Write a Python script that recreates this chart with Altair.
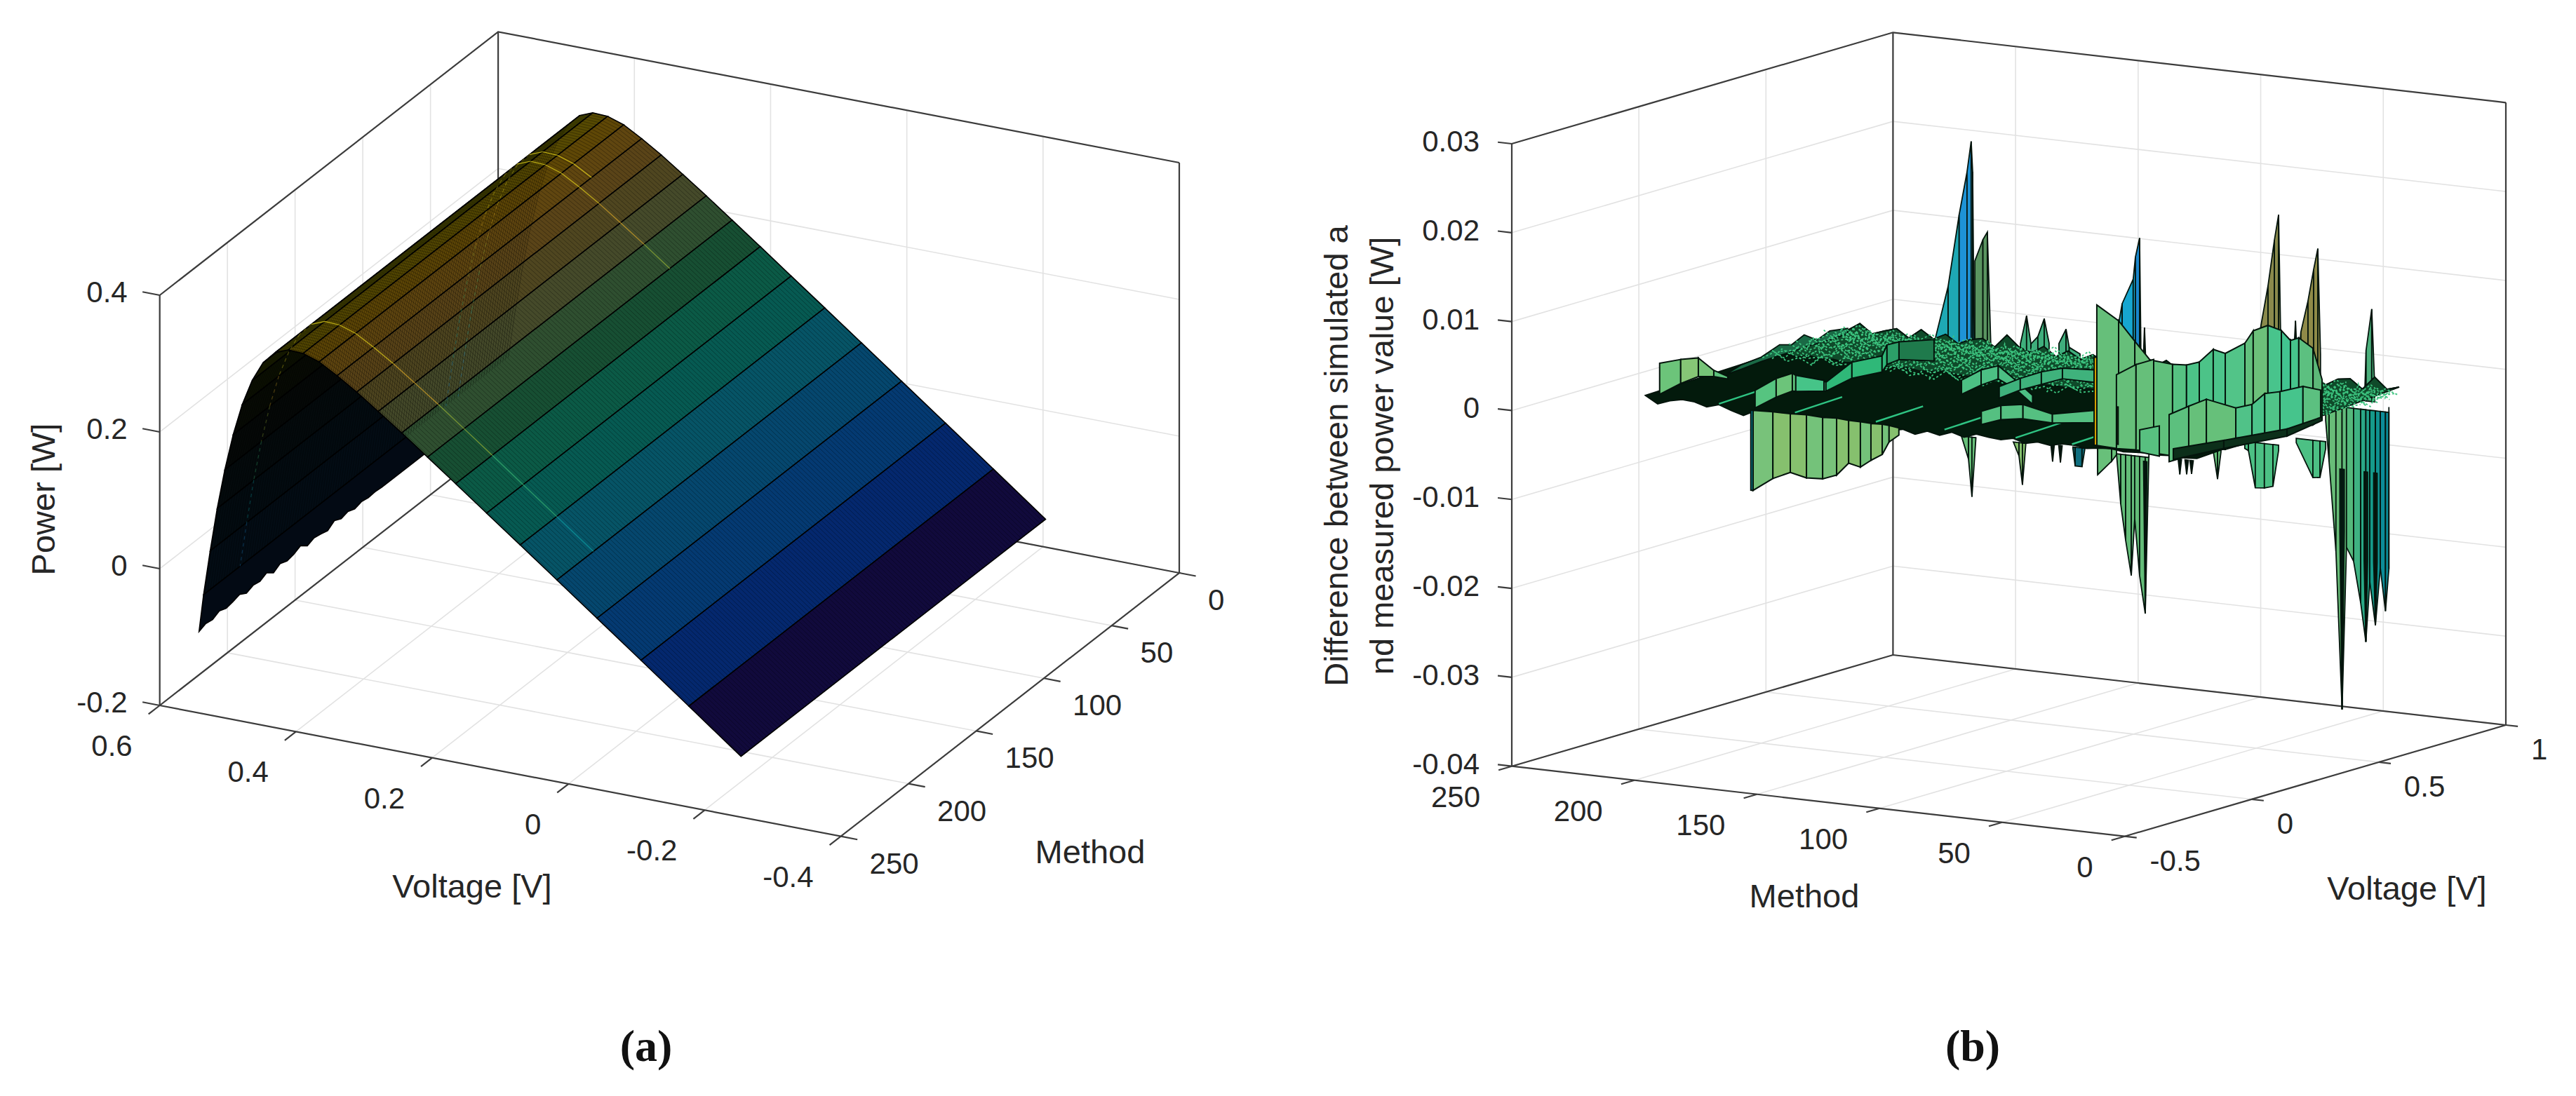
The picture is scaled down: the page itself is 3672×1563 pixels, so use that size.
import altair as alt
import pandas as pd

# ---------- panel (a): measured I-V points and resulting power per voltage row ----------
voltage_rows = [-0.2057, -0.1291, -0.0588, 0.0057, 0.0646, 0.1185, 0.1678, 0.2132, 0.2545, 0.2924, 0.3269, 0.3585, 0.3873,
                0.4137, 0.4373, 0.4590, 0.4784, 0.4960, 0.5119, 0.5265, 0.5398, 0.5521, 0.5633, 0.5736, 0.5833, 0.5900]
power_rows = [-0.1572, -0.0984, -0.0447, 0.0043, 0.0491, 0.0899, 0.1270, 0.1614, 0.1923, 0.2205, 0.2453, 0.2676, 0.2860,
              0.3012, 0.3090, 0.3100, 0.3023, 0.2842, 0.2554, 0.2174, 0.1708, 0.1170, 0.0583, -0.0057, -0.0717, -0.1239]
band_colors = ["#110a3c", "#04286e", "#043a72", "#05476e", "#065466", "#065a52", "#0b5a46", "#174f33", "#2f4f30", "#454a2a",
               "#4f4620", "#5a4418", "#604610", "#5f4706", "#574a02", "#444200", "#2c3000", "#181c00", "#0b0f02", "#070a04",
               "#050807", "#040a0c", "#030b10", "#030c14", "#030a14"]
last_row_methods = [226, 221, 216, 211, 206, 201, 196, 191, 186, 181, 176, 171, 166, 161, 156, 151, 146, 141, 136, 131, 126,
                    121, 116, 111, 106, 101, 96, 91, 86, 81, 76, 71]
last_row_power = [-0.127, -0.123, -0.125, -0.120, -0.124, -0.122, -0.119, -0.125, -0.121, -0.123, -0.118, -0.126, -0.120,
                  -0.124, -0.122, -0.117, -0.125, -0.121, -0.123, -0.126, -0.119, -0.124, -0.121, -0.125, -0.122, -0.124,
                  -0.123, -0.124, -0.124, -0.124, -0.124, -0.124]
highlight_methods = [199, 47, 38]
highlight_first_row = [4, 8, 12]
parula = ["#3e26a8", "#2f5af5", "#1e8fdc", "#10b3b8", "#3fc57e", "#a6c23a", "#eeb62c", "#f9e71f"]

a_v_ticks = [0.6, 0.4, 0.2, 0, -0.2, -0.4]
a_m_ticks = [0, 50, 100, 150, 200, 250]
a_z_ticks = [0.4, 0.2, 0, -0.2]
b_v_ticks = [-0.5, 0, 0.5, 1]
b_m_ticks = [0, 50, 100, 150, 200, 250]
b_z_ticks = [0.03, 0.02, 0.01, 0, -0.01, -0.02, -0.03, -0.04]

# ---------- panel (b): estimated curtains of the error surface: [v, methods, top mW, bottom mW, fill] ----------
GRN, KHK, TEA, DRK = "#68c07a", "#86c06e", "#46c48c", "#06231a"
back_spikes = [
    [0.5398, [185, 179.8, 175.3], [1.5, 7.5, 15.7], [0, 0, 0], "#1ea8b4"],
    [0.5398, [175.3, 172.1, 170.4, 169.8, 169.2], [15.7, 20.6, 24.1, 20.7, 2.2], [0, 0, 0, 0, 0], "#1e93d6"],
    [0.5398, [168.9, 165.6, 163.8, 162.4], [10.7, 13.2, 14.1, 1.6], [0, 0, 0, 0], "#5a9460"],
    [0.5398, [150.3, 147.8, 146, 143.2, 140.6, 138.6], [2, 5.2, 2.1, 3, 5.1, 2.4], [0, 0, 0, 0, 0, 0], "#3fae7c"],
    [0.5398, [134.6, 131.7, 130.4, 126], [2.5, 4.2, 2.2, 1.6], [0, 0, 0, 0], "#3fae7c"],
    [0.5398, [111.7, 108.8, 104.3, 103.4], [3.2, 7.8, 10.7, 13.2], [0, 0, 0, 0], "#16a6d0"],
    [0.5398, [103.4, 101.7, 101.2], [13.2, 15.4, 3.9], [0, 0, 0], "#1a86cc"],
    [0.5398, [100.3, 99.7, 99.1], [1, 5.4, 1], [0, 0, 0], DRK],
    [0.5398, [54.4, 52.2, 49.3, 46.7, 45, 44.2], [2.7, 7.1, 11.7, 16.9, 19.8, 7], [0, 0, 0, 0, 0, 0], "#8a8a4c"],
    [0.5398, [41, 40.2, 39.4], [3, 6, 3], [0, 0, 0], DRK],
    [0.5398, [39, 38.1, 37.3], [3, 8.1, 3], [0, 0, 0], DRK],
    [0.5398, [37.3, 35.9, 33, 30.7, 29, 27.9], [2, 6.9, 10.5, 14.1, 16.5, 4.7], [0, 0, 0, 0, 0, 0], "#8f8a48"],
    [0.5398, [9.8, 9.3, 7, 5.8], [1.3, 5.7, 10.4, 1.8], [0, 0, 0, 0], "#4cb07c"],
]
hanging_spikes = [
    [-0.2057, [97.1, 94.2, 92.8, 91.2], [-0.5, -0.5, -0.5, -0.5], [-0.5, -3, -7.2, -0.6], GRN],
    [-0.2057, [75.9, 73.6, 72.2, 70.8], [-0.5, -0.5, -0.5, -0.5], [-0.5, -2, -5.2, -0.5], KHK],
    [-0.2057, [60.6, 59.9, 59.2], [-0.3, -0.3, -0.3], [-0.3, -2.2, -0.3], DRK],
    [-0.2057, [57.4, 56.7, 56], [-0.3, -0.3, -0.3], [-0.3, -2.2, -0.3], DRK],
    [-0.2057, [51.6, 50.7, 47.9, 46.7], [-0.3, -0.3, -0.3, -0.3], [-0.5, -2.4, -2.4, -0.3], "#0f6f80"],
    [-0.2057, [41.6, 41.5, 35.8, 33.8], [0, 0, 0, 0], [0, -3.1, -1.4, -0.6], GRN],
    [-0.2057, [33.8, 32.1, 30.1, 27.8, 26.4, 24.4, 22.1, 20.6], [-0.5] * 8, [-0.6, -6.1, -10.1, -14, -7.6, -13.9, -18.1, -0.1], "#63bc78"],
    [-0.2057, [22.8, 22.1, 21.4], [-1, -1, -1], [-1, -18.1, -1], DRK],
    [-0.2057, [8.7, 8, 7.3], [-0.3, -0.3, -0.3], [-0.3, -2, -0.3], DRK],
    [-0.2057, [5.9, 5.2, 4.5], [-0.3, -0.3, -0.3], [-0.3, -1.9, -0.3], DRK],
    [-0.2057, [3.9, 3.2, 2.5], [-0.3, -0.3, -0.3], [-0.3, -1.8, -0.3], DRK],
    [0.3585, [52.8, 51.1, 49.7], [-4, -4, -4], [-5.6, -8.6, -5.5], GRN],
    [0.3585, [40, 38.5, 35.7, 32, 28.5, 26.2], [-4, -4, -4, -4, -4, -4], [-4.8, -5, -9.1, -9, -8.7, -4.6], "#4cc084"],
    [0.3585, [19, 12.2, 9.3, 7], [-3, -3, -3, -3], [-3.5, -7.2, -7.1, -3.8], "#4cc084"],
    [0.5398, [25.8, 24.4, 21.6, 19.1], [-1, -1, -1, -1], [-2.7, -7.3, -17.3, -35], "#68bd78"],
    [0.5398, [19.1, 17.3, 14.4, 11.5, 9.4, 7.8, 5.5, 3.5, 1.4, 0, 0], [-1] * 11,
     [-35, -16.7, -18.2, -22.8, -27.1, -20.3, -25.1, -18.6, -23.4, -18.6, -0.4],
     ["#62bc7a", "#55b97c", "#3fb282", "#2aa886", "#20a088", "#159a8a", "#0f9190", "#0c8c98", "#0c8c98", "#0a7f92"]],
    [0.5398, [20, 19.1, 18.2], [-8, -8, -8], [-15, -35, -15], DRK],
    [0.5398, [10.1, 9.4, 8.7], [-8, -8, -8], [-18, -27.1, -18], DRK],
    [0.5398, [6.2, 5.5, 4.8], [-8, -8, -8], [-18, -25.1, -18], DRK],
]
plate_front = [0, -0.8, -0.3, 0, -0.1, -0.5, -0.1, -0.6, -1, -0.3, -0.2, -0.2, -0.2, -0.2, -0.2, -0.2, -0.2, -0.2, -0.2, -0.2, -0.8,
               -0.5, -0.9, -0.4, -0.7, -0.2, -0.6, -0.1, -0.3, -0.4, -0.1, -0.5, -0.2, -0.4, -0.1, -0.1, -0.3, -0.1, 0, -0.2,
               -0.1, 0, -0.1, 0, -0.1, 0]
plate_mid = [0.6, 0.7, 0.5, 0.8, 0.6, 0.7, 0.5, 0.6, 0.8, 0.5, 0.6, 0.7, 0.5, 0.6, 0.8, 0.6, 0.5, 0.7, 0.6, 0.5, 0.6, 0.7, 0.5, 0.6,
             0.5, 0.6, 0.7, 0.5, 0.6, 0.5, 0.6, 0.7, 0.5, 0.6, 0.5, 0.7, 0.6, 0.5, 0.6, 0.7, 0.5, 0.6, 0.7, 0.5, 0.6, 0.7]
plate_back = [0.7, 1.6, 0.6, 1.1, 1.5, 0.6, 1.7, 0.8, 1.5, 0.6, 1.2, 1.5, 0.7, 2.2, 1.0, 0.5, 1.4, 0.4, 1.2, 0.4, 1.1, 0.4, 1.3,
              0.5, 1.1, 0.5, 1.4, 0.5, 1.1, 1.3, 0.5, 1.4, 0.6, 1.2, 1.5, 0.6, 1.4, 0.7, 1.6, 0.7, 1.5, 1.7, 0.7, 2.2, 1.0, 1.4]
ripple = [0.4, 1.2, 0.3, 0.9, 0.2, 1.5, 0.5, 0.8, 0.1, 1.1, 0.6, 1.4, 0.3, 0.7, 0.2, 1.3, 0.4, 1.0, 0.1, 0.9, 0.5, 1.6, 0.3, 0.8,
          0.2, 1.2, 0.6, 0.9, 0.3, 1.1, 0.2, 0.7, 0.5, 1.4, 0.3, 0.9]
ripple_rows = [0.2545, 0.2924, 0.3269, 0.3585, 0.3873, 0.4137, 0.4373, 0.4590, 0.4784, 0.4960, 0.5119, 0.5265, 0.5398, 0.5521, 0.5633, 0.5736, 0.5833]
mesh_methods = [222, 214, 206, 198, 190, 182, 174, 166, 158, 150, 142, 134, 126, 118, 110, 102, 28, 22, 16, 10, 4]
strip_methods = [196, 165, 132, 104, 75, 52]

left_edge_v = [0.118, 0.173, 0.25, 0.3225, 0.37, 0.419, 0.469, 0.52, 0.5900]
left_edge_top = [-0.2, 0.3, 0.5, 1.3, 0.9, 1.6, 0.6, 1.2, 0.9]
left_edge_bot = [-0.3, -0.2, 0.0, 0.1, 0.1, 0.2, 0.2, 0.2, 0.3]

ridges = [
    [-0.2057, [220.2, 211.6, 204.4, 198.1, 192.4], [3.8, 4.5, 4.9, 3.7, 3.2], [0.3, 1.8, 2.8, 3, 2.9], ["#6cc47a", "#86c676", "#76c478", "#5cc27c"]],
    [-0.1291, [189.2, 180.6, 174, 172.6, 161.1, 160.3, 149.7, 137.4, 135.4, 130.5, 116.2], [1.1, 2.7, 3.5, 3.3, 3.1, 2.9, 5.5, 6.6, 7.9, 8.4, 9.1],
     [-0.9, 0.6, 1.5, 1.5, 1.9, 1.9, 3.7, 4.8, 5.7, 6.4, 6.7],
     ["#56c480", "#6cc47a", "#60c27c", "#46c488", "#46c488", "#2fb878", "#2fb878", "#2fb878", "#2c9f68", "#1f7a4c"]],
    [-0.1291, [105, 97, 90, 83, 76], [4.9, 6.3, 7, 5.6, 4.1], [3.3, 4.6, 5.5, 4.6, 3.1], "#4cc084"],
    [0.0646, [117, 109, 100, 88, 70], [-0.6, 0.3, 0.7, 0.0, 1.0], [-2.1, -1.3, -0.9, -1.0, -0.4], "#55c081"],
    [0.0646, [109.7, 101.1, 92.5, 83.9, 71], [2.4, 3.6, 4.6, 5.3, 5.5], [1.1, 2.3, 3.2, 4.1, 4.1], "#3fb27c"],
]
wall_a = [-0.2057, [182.1, 174, 166.9, 160.3, 153.7, 148, 143.1, 138.3, 134, 129.4, 126.6, 122.6],
          [-0.3, -0.2, -0.2, -0.1, -0.2, -0.1, -0.2, -0.2, -0.25, -0.2, -0.25, -0.4],
          [-9.3, -7.7, -6.8, -7.2, -7.1, -6.5, -5, -5.3, -4.4, -3.6, -2.1, -1.2],
          ["#78c27a", KHK, KHK, "#74c27a", "#78c27a", KHK, KHK, "#74c27a", KHK, "#74c27a", KHK]]
wall_a_edge = [-0.2057, [183, 182.1], [-0.3, -0.3], [-9.3, -9.3], "#0b8fa8"]
wall_1 = [0.2924, [93.5, 84.6, 78, 71.8, 62.6, 56.9, 51.7, 46, 41.1, 33.1, 29.7, 23.7, 18.2, 14.5, 11.1, 5.3, 1.6],
          [10.2, 8.7, 6.6, 4.7, 4.5, 4.6, 5.1, 6.7, 6.4, 7.8, 9.3, 10.1, 9.7, 8.7, 9.1, 8.1, 4.7],
          [-5.6, -5.7, -5.6, -5.7, -5.8, -5.6, -5.3, -4.5, -4.4, -3.5, -3, -2.5, -2, -1.5, -1, -0.5, 0.3],
          ["#66bf7a", "#66bf7a", "#68c07a", "#60c07c", "#56c282", "#4cc388", "#4cc388", "#4cc48a", "#52c488", "#62c07e", "#6cc07a",
           "#48c48c", "#42c490", "#46c48c", "#5cc080", "#5cb878"]]
wall_1_edge = [0.2924, [94.6, 93.5], [4.3, 4.3], [-5.6, -5.6], "#e6ad00"]
wall_2 = [0.2924, [85.5, 77.5, 70.3], [2.6, 4, 4.8], [-5.7, -5.6, -5.6], "#66bf7a"]
wall_2_edge = [0.2924, [85.4, 84.8], [-1, -1], [-5.2, -5.2], "#a07820"]
wall_2b = [0.2924, [76, 68], [-3.3, -2.6], [-5.8, -6], "#58c080"]
wall_3 = [0.2924, [64, 56, 48.8, 36.8, 30.2, 25, 18.8, 9.4, 2.2], [-1.2, 0, 1, 0.4, 1, 2.4, 2.8, 3.7, 3.5],
          [-6.5, -5.6, -4.6, -3, -2.6, -2.2, -1.7, -0.6, 0.1],
          ["#5cc07e", "#66c07a", "#66c07a", "#50c288", "#4cc48a", "#50c488", "#46c48c", "#5cc080"]]
shelf = [0.2924, [62.3, 41.7, 15.9, 1.6], [-5, -3.4, -1.3, 0.5], [-6.2, -4.3, -2.1, 0.1], "#0c2f1a"]

# ---------- layout ----------
A = dict(F=(1198.6, 1192.7), V=(-970.9, -186.7), M=(482.4, -375.7), H=585.0, v0=-0.4, v1=0.6, m0=250, m1=0, z0=-0.2, z1=0.4)
B = dict(F=(3028.6, 1192.7), V=(543.4, -158.7), M=(-873.6, -100.0), H=887.7, v0=-0.5, v1=1.0, m0=0, m1=250, z0=-0.04, z1=0.03)


def proj(p, v, m, z):
    a = (v - p["v0"]) / (p["v1"] - p["v0"])
    c = (m - p["m0"]) / (p["m1"] - p["m0"])
    h = (z - p["z0"]) / (p["z1"] - p["z0"]) * p["H"]
    return [round(p["F"][0] + a * p["V"][0] + c * p["M"][0], 2), round(p["F"][1] + a * p["V"][1] + c * p["M"][1] - h, 2)]


def line(pts, **props):
    return {"type": "Feature", "geometry": {"type": "LineString", "coordinates": pts}, "properties": props}


def poly(pts, **props):
    return {"type": "Feature", "geometry": {"type": "Polygon", "coordinates": [pts + [pts[0]]]}, "properties": props}


def frame(p, v_ticks, m_ticks, z_ticks):
    grid, box = [], []
    P = lambda v, m, z: proj(p, v, m, z)
    v0, v1, m0, m1, z0, z1 = p["v0"], p["v1"], p["m0"], p["m1"], p["z0"], p["z1"]
    for v in v_ticks:
        grid.append(line([P(v, m0, z0), P(v, m1, z0)]))
        grid.append(line([P(v, m1, z0), P(v, m1, z1)]))
    for m in m_ticks:
        grid.append(line([P(v0, m, z0), P(v1, m, z0)]))
        grid.append(line([P(v1, m, z0), P(v1, m, z1)]))
    for z in z_ticks:
        grid.append(line([P(v1, m0, z), P(v1, m1, z), P(v0, m1, z)]))
    box.append(line([P(v1, m0, z0), P(v0, m0, z0), P(v0, m1, z0), P(v1, m1, z0), P(v1, m0, z0)]))
    for v, m in [(v1, m0), (v1, m1), (v0, m1)]:
        box.append(line([P(v, m, z0), P(v, m, z1)]))
    box.append(line([P(v1, m0, z1), P(v1, m1, z1), P(v0, m1, z1)]))
    return grid, box


def curtain(spec):
    v, ms, top, bot, fill = spec
    P = lambda m, z: proj(B, v, m, z / 1000)
    out = []
    for i in range(len(ms) - 1):
        f = fill if isinstance(fill, str) else fill[min(i, len(fill) - 1)]
        out.append(poly([P(ms[i], top[i]), P(ms[i + 1], top[i + 1]), P(ms[i + 1], bot[i + 1]), P(ms[i], bot[i])], fill=f))
    return out


# ----- panel a features -----
a_grid, a_box = frame(A, a_v_ticks, a_m_ticks, a_z_ticks)
for v in a_v_ticks:
    a_box.append(line([proj(A, v, 250, -0.2), proj(A, v, 258.3, -0.2)]))
for m in a_m_ticks:
    a_box.append(line([proj(A, -0.4, m, -0.2), proj(A, -0.4243, m, -0.2)]))
for z in a_z_ticks:
    a_box.append(line([proj(A, 0.6, 250, z), proj(A, 0.6253, 250, z)]))

a_bands = []
for i in range(len(band_colors) - 1, -1, -1):
    lo = [proj(A, voltage_rows[i], m, power_rows[i]) for m in (1, 226)]
    if i == len(band_colors) - 1:
        hi = [proj(A, voltage_rows[i + 1], m, z) for m, z in zip(last_row_methods, last_row_power)]
        hi.append(proj(A, voltage_rows[i + 1], 1, power_rows[i + 1]))
    else:
        hi = [proj(A, voltage_rows[i + 1], m, power_rows[i + 1]) for m in (226, 1)]
    a_bands.append(poly(lo + hi, fill=band_colors[i]))

a_hatch = [line([proj(A, v, m, z) for v, z in zip(voltage_rows[:-1], power_rows[:-1])]) for m in range(1, 227, 2)]
a_high, a_high_dim = [], []
for m, first in zip(highlight_methods, highlight_first_row):
    for i in range(first, len(voltage_rows) - 2):
        t = (power_rows[i] + 0.16) / 0.47
        seg = line([proj(A, voltage_rows[i], m, power_rows[i]), proj(A, voltage_rows[i + 1], m, power_rows[i + 1])],
                   stroke=parula[min(int(t * 8), 7)])
        (a_high if i < 16 else a_high_dim).append(seg)

# ----- panel b features -----
b_grid, b_box = frame(B, b_v_ticks, b_m_ticks, b_z_ticks)
for v in b_v_ticks:
    b_box.append(line([proj(B, v, 0, -0.04), proj(B, v, -4.9, -0.04)]))
for m in b_m_ticks:
    b_box.append(line([proj(B, -0.5, m, -0.04), proj(B, -0.552, m, -0.04)]))
for z in b_z_ticks:
    b_box.append(line([proj(B, -0.5, 250, z), proj(B, -0.5, 255.7, z)]))

lower = []
for s in back_spikes + hanging_spikes:
    lower += curtain(s)
edge_pts = lambda v, zs: [proj(B, v, 226 - 5 * i, z / 1000) for i, z in enumerate(zs)]
plate = edge_pts(-0.2057, plate_front) + edge_pts(0.59, plate_back)[::-1]
lower.append(poly(plate, fill="#031a0c"))
lower.append(poly(edge_pts(0.2924, plate_mid) + edge_pts(0.59, plate_back)[::-1], fill="#0f4a2a"))
lower.append(poly([proj(B, v, 226, z / 1000) for v, z in zip(left_edge_v, left_edge_top)]
                  + [proj(B, v, 226, z / 1000) for v, z in zip(left_edge_v, left_edge_bot)][::-1], fill="#1a6a46"))

speckle = []
for k, v in enumerate(ripple_rows):
    zs = ripple[k * 3 % 11:] + ripple[:k * 3 % 11]
    speckle.append(line([proj(B, v, 226 - 5 * i, z / 1000) for i, z in enumerate(zs)]))
    speckle.append(line([proj(B, v, 31 - 5 * i, z / 1000) for i, z in enumerate(zs[:7])]))
for j, m in enumerate(mesh_methods):
    speckle.append(line([proj(B, v, m, ripple[(j + i) % len(ripple)] / 1000) for i, v in enumerate(ripple_rows)]))
strips = [line([proj(B, -0.2057, m, 0.0), proj(B, -0.02, m, 0.0002)]) for m in strip_methods]

upper = []
for s in ridges + [wall_a, wall_a_edge, wall_1, wall_1_edge, wall_2, wall_2_edge, wall_2b, wall_3, shelf]:
    upper += curtain(s)

# ----- texts -----
fmt = lambda t: f"{t:g}"
rows = []
for t in a_z_ticks:
    x, y = proj(A, 0.6, 250, t); rows.append((x - 46, y - 3, fmt(t), "right"))
for t in a_v_ticks:
    x, y = proj(A, t, 250, -0.2); rows.append((x - 39, y + 59, fmt(t), "right"))
for t in a_m_ticks:
    x, y = proj(A, -0.4, t, -0.2); rows.append((x + 41, y + 40, fmt(t), "left"))
for t in b_z_ticks:
    x, y = proj(B, -0.5, 250, t); rows.append((x - 46, y - 2, fmt(t), "right"))
for t in b_m_ticks:
    x, y = proj(B, -0.5, t, -0.04); rows.append((x - 45, y + 45, fmt(t), "right"))
for t in b_v_ticks:
    x, y = proj(B, t, 0, -0.04); rows.append((x + 36, y + 36, fmt(t), "left"))
ticks_df = pd.DataFrame(rows, columns=["x", "y", "t", "al"])
titles_df = pd.DataFrame([(673, 1266, "Voltage [V]"), (1554, 1217, "Method"), (2572, 1280, "Method"), (3431, 1269, "Voltage [V]")],
                         columns=["x", "y", "t"])
vtitles_df = pd.DataFrame([(64, 712, "Power [W]"), (1907, 650, "Difference between simulated a"),
                           (1972, 650, "nd measured power value [W]")], columns=["x", "y", "t"])
caps_df = pd.DataFrame([(921, 1494, "(a)"), (2812, 1494, "(b)")], columns=["x", "y", "t"])

# ---------- chart ----------
W, H = 3656, 1547
X = alt.X("x:Q", axis=None, scale=alt.Scale(domain=[8, 8 + W], nice=False, zero=False))
Y = alt.Y("y:Q", axis=None, scale=alt.Scale(domain=[8 + H, 8], nice=False, zero=False))
FF = alt.Fill("properties.fill:N", scale=None)
SF = alt.Stroke("properties.stroke:N", scale=None)
PR = dict(type="identity", scale=1, translate=[-8, -8])


def lines(features, **mark):
    return alt.Chart(alt.Data(values=features)).mark_geoshape(filled=False, **mark).project(**PR)


def fills(features, **mark):
    return alt.Chart(alt.Data(values=features)).mark_geoshape(**mark).encode(fill=FF).project(**PR)


def texts(df, **mark):
    return alt.Chart(df).mark_text(baseline="middle", **mark).encode(x=X, y=Y, text="t:N")


GRID = dict(stroke="#e2e2e2", strokeWidth=1.6)
BOX = dict(stroke="#3c3c3c", strokeWidth=2.2)
layers = [
    lines(a_grid, **GRID), lines(a_box, **BOX),
    fills(a_bands, stroke="#000000", strokeWidth=1.6),
    lines(a_hatch, stroke="#000000", strokeWidth=1, opacity=0.3),
    lines(a_high, strokeWidth=1.2, opacity=0.7).encode(stroke=SF),
    lines(a_high_dim, strokeWidth=1.2, opacity=0.3, strokeDash=[5, 5]).encode(stroke=SF),
    lines(b_grid, **GRID), lines(b_box, **BOX),
    fills(lower, stroke="#04140c", strokeWidth=1.8),
    lines(speckle, stroke="#3cc47f", strokeWidth=1.8, strokeDash=[3, 3]),
    lines(strips, stroke="#2fc483", strokeWidth=2.4),
    fills(upper, stroke="#04140c", strokeWidth=2),
]
for al in ("left", "right"):
    layers.append(texts(ticks_df[ticks_df.al == al], align=al, font="Liberation Sans", fontSize=42, color="#262626"))
layers.append(texts(titles_df, align="center", font="Liberation Sans", fontSize=47, color="#262626"))
layers.append(texts(vtitles_df, align="center", angle=270, font="Liberation Sans", fontSize=47, color="#262626"))
layers.append(texts(caps_df, align="center", font="Liberation Serif", fontSize=64, fontWeight="bold", color="#111111"))

chart = alt.layer(*layers).properties(width=W, height=H, padding=0, autosize=alt.AutoSizeParams(type="none"),
                                      background="white").configure_view(stroke=None)
chart.save("out.html", embed_options={"renderer": "svg", "actions": False})
